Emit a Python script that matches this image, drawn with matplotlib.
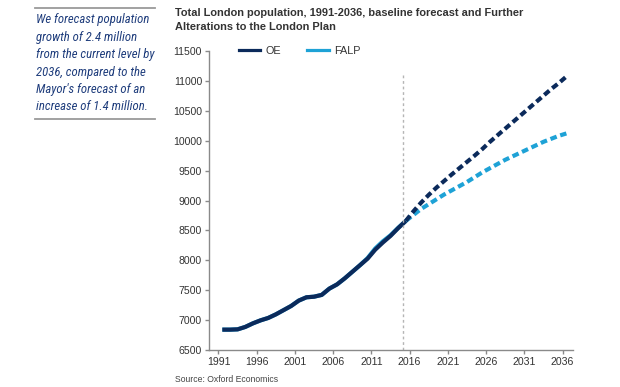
import matplotlib.pyplot as plt
from matplotlib.lines import Line2D

plt.rcParams['font.family'] = ['Liberation Sans', 'DejaVu Sans']

# ===== DATA =====
hist_years = list(range(1991, 2016))
hist_oe = [6845, 6845, 6850, 6890, 6950, 7000, 7040, 7100, 7170, 7240,
           7330, 7385, 7395, 7425, 7530, 7600, 7700, 7810, 7920, 8030,
           8180, 8300, 8410, 8540, 8660]
hist_falp = [6845, 6845, 6850, 6890, 6950, 7000, 7040, 7100, 7170, 7240,
             7330, 7385, 7395, 7425, 7530, 7600, 7700, 7810, 7920, 8040,
             8200, 8320, 8420, 8545, 8660]

fc_years = list(range(2015, 2037))
fc_oe = [8660, 8820, 8965, 9095, 9215, 9325, 9435, 9540, 9645, 9750, 9860,
         9980, 10090, 10200, 10310, 10420, 10530, 10640, 10750, 10860, 10960, 11070]
fc_falp = [8660, 8760, 8860, 8940, 9020, 9100, 9170, 9240, 9310, 9390, 9470,
           9540, 9610, 9680, 9740, 9800, 9860, 9920, 9980, 10030, 10080, 10120]

tick_years = [1991, 1996, 2001, 2006, 2011, 2016, 2021, 2026, 2031, 2036]
y_ticks = list(range(6500, 12000, 500))

OE_COL = '#0b2a5b'
FALP_COL = '#1ea2d6'
TXT_COL = '#333333'

fig = plt.figure(figsize=(6.2, 3.87), dpi=100)
ax = fig.add_axes([0.337, 0.0948, 0.587, 0.774])

ax.plot(hist_years, hist_falp, color=FALP_COL, lw=3, solid_capstyle='butt')
ax.plot(hist_years, hist_oe, color=OE_COL, lw=3, solid_capstyle='butt')
ax.plot(fc_years, fc_falp, color=FALP_COL, lw=3, dashes=(1.6, 0.9))
ax.plot(fc_years, fc_oe, color=OE_COL, lw=3, dashes=(1.6, 0.9))

# forecast start marker
ax.vlines(2014.6, 6500, 11120, colors='#b5b5b5', lw=1, linestyles=(0, (2, 2)))

ax.set_xlim(1989.25, 2036.85)
ax.set_ylim(6500, 11500)
# category-style ticks sit half a year left of the points
ax.set_xticks([y - 0.5 for y in tick_years])
ax.set_xticklabels([str(y) for y in tick_years])
ax.set_yticks(y_ticks)

for s in ['top', 'right']:
    ax.spines[s].set_visible(False)
for s in ['left', 'bottom']:
    ax.spines[s].set_color('#8a8a8a')
    ax.spines[s].set_linewidth(1)
ax.tick_params(axis='both', colors='#8a8a8a', labelcolor=TXT_COL,
               labelsize=7.6, length=3, width=1, pad=2)

handles = [Line2D([], [], color=OE_COL, lw=2.3),
           Line2D([], [], color=FALP_COL, lw=2.3)]
ax.legend(handles, ['OE', 'FALP'], ncol=2, frameon=False, fontsize=7.8,
          loc='center left', bbox_to_anchor=(0.055, 1.0),
          handlelength=2.0, handletextpad=0.5, columnspacing=2.4,
          labelcolor=TXT_COL)

# title and source
fig.text(175 / 620, 1 - 12.5 / 387,
         'Total London population, 1991-2036, baseline forecast and Further',
         fontsize=7.95, fontweight='bold', color='#333333', va='center', ha='left')
fig.text(175 / 620, 1 - 27.5 / 387, 'Alterations to the London Plan',
         fontsize=7.95, fontweight='bold', color='#333333', va='center', ha='left')
fig.text(175 / 620, 1 - 379 / 387, 'Source: Oxford Economics',
         fontsize=6.2, color='#444444', va='center', ha='left')

# side note
note = ['We forecast population', 'growth of 2.4 million',
        'from the current level by', '2036, compared to the',
        "Mayor's forecast of an", 'increase of 1.4 million.']
for i, line in enumerate(note):
    fig.text(36 / 620, 1 - (20 + i * 17.4) / 387, line,
             family=['Roboto Condensed', 'DejaVu Sans'], style='italic',
             fontsize=9.2, color='#1f3d7c', va='center', ha='left')
for yy in [8, 119]:
    fig.add_artist(Line2D([35 / 620, 155 / 620], [1 - yy / 387, 1 - yy / 387],
                          color='#9a9a9a', lw=1.3))

plt.savefig('out.png', dpi=100)
